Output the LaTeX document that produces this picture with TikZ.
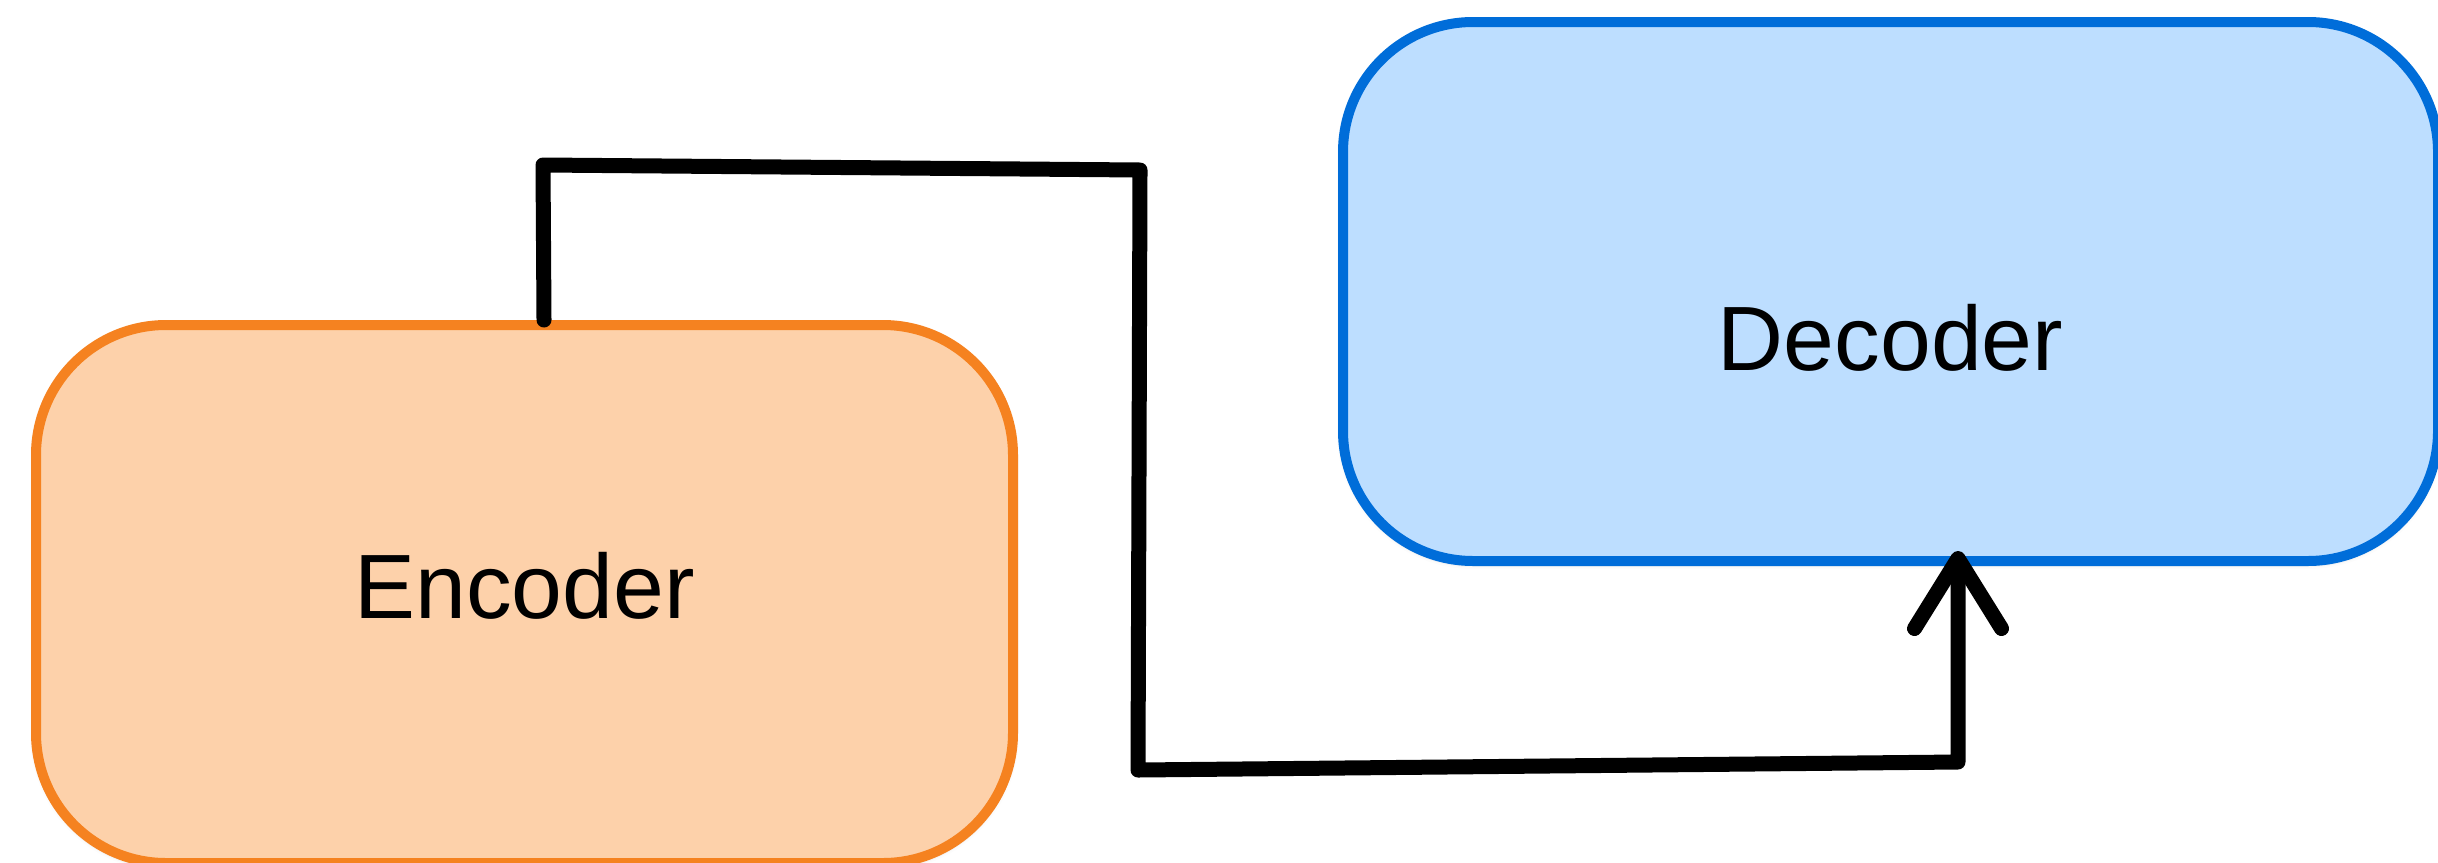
\documentclass[tikz,border=0pt]{standalone}
\usepackage{fontspec}
\setmainfont{Liberation Sans}
\usetikzlibrary{arrows.meta,positioning,shadows.blur}

\definecolor{encfill}{HTML}{FDD1AA}
\definecolor{encline}{HTML}{F58220}
\definecolor{decfill}{HTML}{BDDEFF}
\definecolor{decline}{HTML}{006DD9}

\begin{document}
\begin{tikzpicture}[
x=0.1mm, y=-0.1mm,
font=\fontsize{26}{31}\selectfont,
block/.style={draw, line width=1mm, rounded corners=13mm, inner sep=0pt,
    anchor=north west,
    blur shadow={shadow xshift=0mm, shadow yshift=-0.2mm, shadow blur radius=0.6mm, shadow opacity=20}},
link/.style={line width=1.5mm, line join=round, line cap=round},
]
\useasboundingbox (0,0) rectangle (2438,862);

\node[block, draw=encline, fill=encfill, minimum width=97.7mm, minimum height=53.8mm] (enc) at (31,320) {};
\node[block, draw=decline, fill=decfill, minimum width=109.5mm, minimum height=53.9mm] (dec) at (1338,17) {};

% labels sit a little off the box centres
\node (enclabel) at ([yshift=0.8mm]enc.center) {Encoder};
\node (declabel) at ([yshift=-4.6mm]dec.center) {Decoder};

% bends of the link
\coordinate (b0) at (544,320);
\coordinate (b1) at (543,165);
\coordinate (b2) at (1140,170);
\coordinate (b3) at (1138,770);
\coordinate (b4) at (1958,762);

\draw[link, -{Straight Barb[length=7mm, width=8.7mm, line join=round, line cap=round]}]
  (b0) -- (b1) -- (b2) -- (b3) -- (b4) -- ([yshift=1.5mm]dec.south -| b4);

\end{tikzpicture}
\end{document}
